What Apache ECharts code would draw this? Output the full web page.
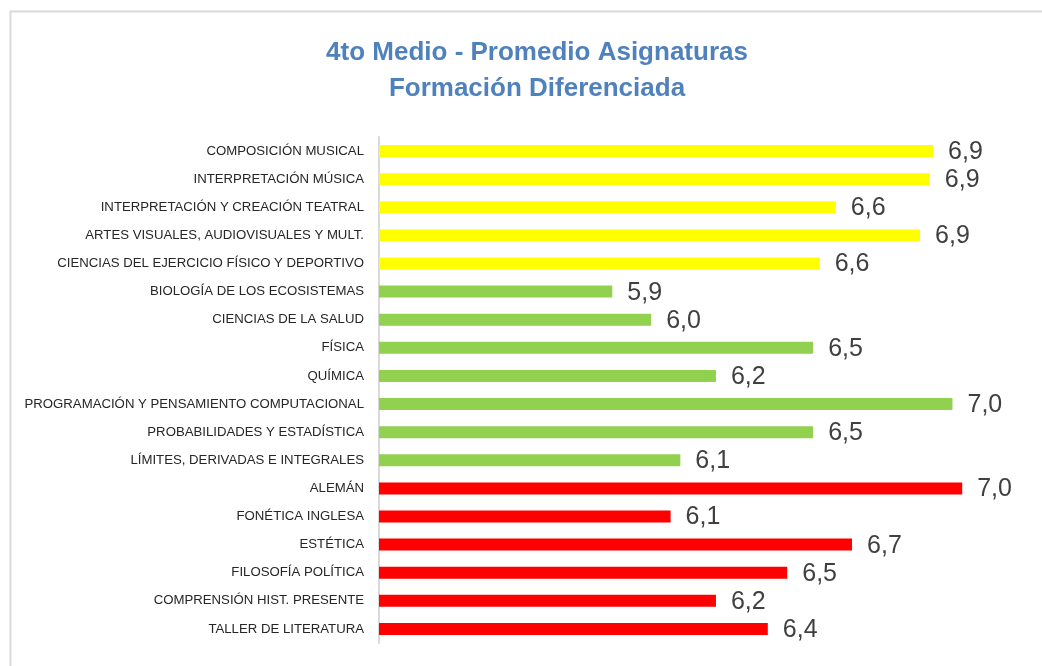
<!DOCTYPE html>
<html>
<head>
<meta charset="utf-8">
<script src="https://cdn.jsdelivr.net/npm/echarts@6/dist/echarts.min.js"></script>
<style>
html,body{margin:0;padding:0;background:#fff;}
#c{width:1042px;height:666px;}
</style>
</head>
<body>
<div id="c"></div>
<script>
var categories = [
  'COMPOSICIÓN MUSICAL',
  'INTERPRETACIÓN MÚSICA',
  'INTERPRETACIÓN Y CREACIÓN TEATRAL',
  'ARTES VISUALES, AUDIOVISUALES Y MULT.',
  'CIENCIAS DEL EJERCICIO FÍSICO Y DEPORTIVO',
  'BIOLOGÍA DE LOS ECOSISTEMAS',
  'CIENCIAS DE LA SALUD',
  'FÍSICA',
  'QUÍMICA',
  'PROGRAMACIÓN Y PENSAMIENTO COMPUTACIONAL',
  'PROBABILIDADES Y ESTADÍSTICA',
  'LÍMITES, DERIVADAS E INTEGRALES',
  'ALEMÁN',
  'FONÉTICA INGLESA',
  'ESTÉTICA',
  'FILOSOFÍA POLÍTICA',
  'COMPRENSIÓN HIST. PRESENTE',
  'TALLER DE LITERATURA'
];
var values = [6.91, 6.90, 6.61, 6.87, 6.56, 5.92, 6.04, 6.54, 6.24, 6.97, 6.54, 6.13, 7.00, 6.10, 6.66, 6.46, 6.24, 6.40];
var groups = ['art','art','art','art','art','sci','sci','sci','sci','sci','sci','sci','hum','hum','hum','hum','hum','hum'];
var groupColors = {art:'#ffff00', sci:'#92d050', hum:'#ff0000'};
var titleLines = ['4to Medio - Promedio Asignaturas', 'Formación Diferenciada'];

var sans = "'Liberation Sans', Arial, sans-serif";
var chart = echarts.init(document.getElementById('c'), null, {renderer:'canvas'});
chart.setOption({
  backgroundColor:'#ffffff',
  animation:false,
  graphic:[{
    type:'rect', left:8, top:9, silent:true, z:-1,
    shape:{width:1100, height:1000},
    style:{fill:'none', stroke:'#d9d9d9', lineWidth:2}
  }],
  title:{
    text: titleLines.join('\n'),
    left:532, top:30, textAlign:'center',
    textStyle:{fontFamily:sans, fontSize:26, fontWeight:'bold', color:'#4f81bd', lineHeight:36}
  },
  grid:{left:379, top:137, bottom:23, right:15, containLabel:false, outerBoundsMode:'none'},
  xAxis:{type:'value', min:5.2, max:7.2, show:false},
  yAxis:{
    type:'category', data:categories, inverse:true,
    axisLine:{show:true, lineStyle:{color:'#d9d9d9', width:2}},
    axisTick:{show:false},
    axisLabel:{margin:15, fontFamily:sans, fontSize:13.2, color:'#262626'},
    splitLine:{show:false}
  },
  series:[{
    type:'bar', barWidth:12,
    data: values.map(function(v,i){return {value:v, itemStyle:{color:groupColors[groups[i]]}};}),
    label:{
      show:true, position:'right', distance:15,
      fontFamily:sans, fontSize:25, color:'#404040', offset:[0,1],
      formatter:function(p){return p.value.toFixed(1).replace('.', ',');}
    }
  }]
});
</script>
</body>
</html>
